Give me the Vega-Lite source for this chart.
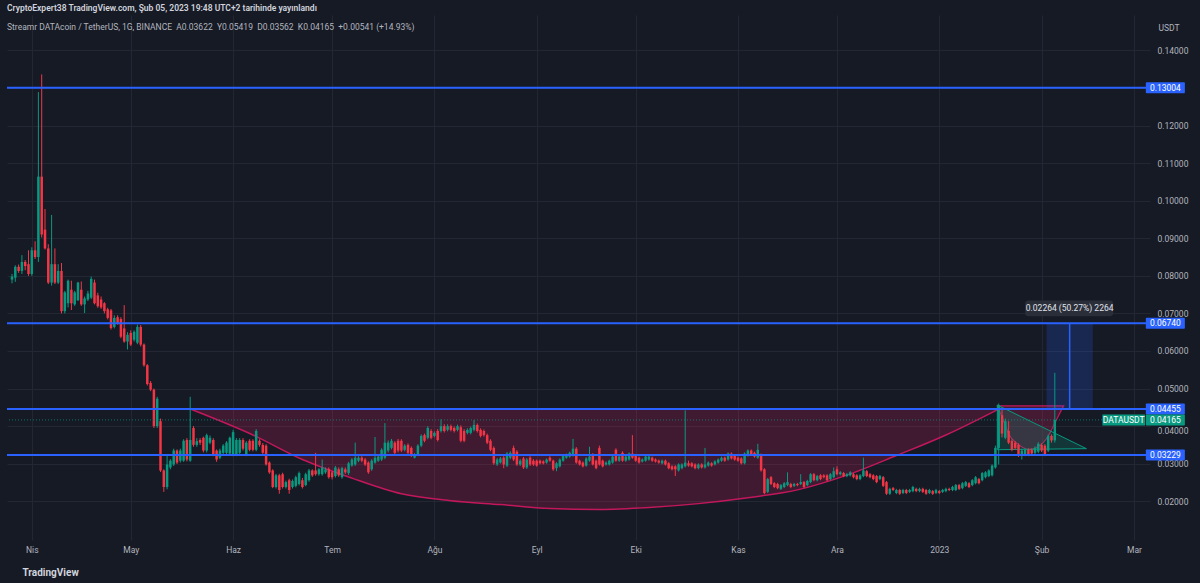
{
"$schema": "https://vega.github.io/schema/vega-lite/v6.json",
"width": 1143, "height": 525,
"autosize": {"type": "none"},
"padding": {"left": 7, "top": 15, "right": 50, "bottom": 43},
"background": "#161a25",
"config": {"view": {"stroke": null}, "font": "Roboto"},
"title": {"text": "CryptoExpert38 TradingView.com, Şub 05, 2023 19:48 UTC+2 tarihinde yayınlandı", "subtitle": "\u00a0\u00a0Streamr DATAcoin / TetherUS, 1G, BINANCE\u00a0\u00a0A0.03622\u00a0\u00a0Y0.05419\u00a0\u00a0D0.03562\u00a0\u00a0K0.04165\u00a0\u00a0+0.00541 (+14.93%)", "anchor": "start", "frame": "group", "offset": -16, "fontSize": 8.5, "fontWeight": 600, "color": "#d1d4dc", "subtitleFontSize": 8.5, "subtitleColor": "#b2b5be", "subtitlePadding": 10},
"datasets": {
"candles": [
{"t":"2022-03-26","o":0.0790,"h":0.0805,"l":0.0780,"c":0.0798},
{"t":"2022-03-27","o":0.0795,"h":0.0828,"l":0.0784,"c":0.0824},
{"t":"2022-03-28","o":0.0824,"h":0.0830,"l":0.0808,"c":0.0813},
{"t":"2022-03-29","o":0.0813,"h":0.0855,"l":0.0805,"c":0.0837},
{"t":"2022-03-30","o":0.0837,"h":0.0842,"l":0.0815,"c":0.0826},
{"t":"2022-03-31","o":0.0831,"h":0.0868,"l":0.0800,"c":0.0805},
{"t":"2022-04-01","o":0.0805,"h":0.0876,"l":0.0800,"c":0.0868},
{"t":"2022-04-02","o":0.0868,"h":0.0892,"l":0.0845,"c":0.0850},
{"t":"2022-04-03","o":0.0850,"h":0.1289,"l":0.0837,"c":0.1064},
{"t":"2022-04-04","o":0.1064,"h":0.1336,"l":0.0902,"c":0.0910},
{"t":"2022-04-05","o":0.0923,"h":0.0978,"l":0.0870,"c":0.0873},
{"t":"2022-04-06","o":0.0873,"h":0.0884,"l":0.0778,"c":0.0782},
{"t":"2022-04-07","o":0.0782,"h":0.0962,"l":0.0774,"c":0.0831},
{"t":"2022-04-08","o":0.0831,"h":0.0873,"l":0.0778,"c":0.0782},
{"t":"2022-04-09","o":0.0782,"h":0.0831,"l":0.0778,"c":0.0813},
{"t":"2022-04-10","o":0.0813,"h":0.0834,"l":0.0700,"c":0.0706},
{"t":"2022-04-11","o":0.0706,"h":0.0760,"l":0.0700,"c":0.0756},
{"t":"2022-04-12","o":0.0727,"h":0.0790,"l":0.0716,"c":0.0787},
{"t":"2022-04-13","o":0.0763,"h":0.0787,"l":0.0709,"c":0.0727},
{"t":"2022-04-14","o":0.0724,"h":0.0760,"l":0.0720,"c":0.0756},
{"t":"2022-04-15","o":0.0735,"h":0.0784,"l":0.0733,"c":0.0782},
{"t":"2022-04-16","o":0.0763,"h":0.0785,"l":0.0720,"c":0.0724},
{"t":"2022-04-17","o":0.0724,"h":0.0745,"l":0.0701,"c":0.0740},
{"t":"2022-04-18","o":0.0737,"h":0.0760,"l":0.0733,"c":0.0753},
{"t":"2022-04-19","o":0.0742,"h":0.0798,"l":0.0738,"c":0.0792},
{"t":"2022-04-20","o":0.0782,"h":0.0790,"l":0.0724,"c":0.0727},
{"t":"2022-04-21","o":0.0748,"h":0.0755,"l":0.0715,"c":0.0719},
{"t":"2022-04-22","o":0.0737,"h":0.0745,"l":0.0712,"c":0.0716},
{"t":"2022-04-23","o":0.0727,"h":0.0730,"l":0.0700,"c":0.0706},
{"t":"2022-04-24","o":0.0711,"h":0.0715,"l":0.0684,"c":0.0688},
{"t":"2022-04-25","o":0.0708,"h":0.0712,"l":0.0657,"c":0.0661},
{"t":"2022-04-26","o":0.0664,"h":0.0695,"l":0.0660,"c":0.0688},
{"t":"2022-04-27","o":0.0690,"h":0.0695,"l":0.0670,"c":0.0675},
{"t":"2022-04-28","o":0.0685,"h":0.0690,"l":0.0634,"c":0.0638},
{"t":"2022-04-29","o":0.0660,"h":0.0722,"l":0.0622,"c":0.0625},
{"t":"2022-04-30","o":0.0625,"h":0.0650,"l":0.0604,"c":0.0643},
{"t":"2022-05-01","o":0.0648,"h":0.0655,"l":0.0613,"c":0.0617},
{"t":"2022-05-02","o":0.0630,"h":0.0655,"l":0.0625,"c":0.0651},
{"t":"2022-05-03","o":0.0622,"h":0.0670,"l":0.0618,"c":0.0664},
{"t":"2022-05-04","o":0.0664,"h":0.0669,"l":0.0612,"c":0.0617},
{"t":"2022-05-05","o":0.0617,"h":0.0620,"l":0.0558,"c":0.0562},
{"t":"2022-05-06","o":0.0562,"h":0.0565,"l":0.0508,"c":0.0512},
{"t":"2022-05-07","o":0.0515,"h":0.0520,"l":0.0493,"c":0.0497},
{"t":"2022-05-08","o":0.0497,"h":0.0500,"l":0.0395,"c":0.0400},
{"t":"2022-05-09","o":0.0400,"h":0.0478,"l":0.0395,"c":0.0473},
{"t":"2022-05-10","o":0.0413,"h":0.0420,"l":0.0278,"c":0.0282},
{"t":"2022-05-11","o":0.0282,"h":0.0285,"l":0.0225,"c":0.0238},
{"t":"2022-05-12","o":0.0238,"h":0.0324,"l":0.0232,"c":0.0298},
{"t":"2022-05-13","o":0.0290,"h":0.0312,"l":0.0285,"c":0.0308},
{"t":"2022-05-14","o":0.0298,"h":0.0340,"l":0.0294,"c":0.0335},
{"t":"2022-05-15","o":0.0335,"h":0.0338,"l":0.0299,"c":0.0303},
{"t":"2022-05-16","o":0.0308,"h":0.0340,"l":0.0303,"c":0.0335},
{"t":"2022-05-17","o":0.0308,"h":0.0365,"l":0.0305,"c":0.0361},
{"t":"2022-05-18","o":0.0363,"h":0.0368,"l":0.0306,"c":0.0311},
{"t":"2022-05-19","o":0.0308,"h":0.0478,"l":0.0305,"c":0.0363},
{"t":"2022-05-20","o":0.0395,"h":0.0400,"l":0.0345,"c":0.0350},
{"t":"2022-05-21","o":0.0350,"h":0.0368,"l":0.0345,"c":0.0360},
{"t":"2022-05-22","o":0.0363,"h":0.0368,"l":0.0350,"c":0.0356},
{"t":"2022-05-23","o":0.0369,"h":0.0372,"l":0.0330,"c":0.0335},
{"t":"2022-05-24","o":0.0335,"h":0.0380,"l":0.0330,"c":0.0376},
{"t":"2022-05-25","o":0.0356,"h":0.0375,"l":0.0352,"c":0.0369},
{"t":"2022-05-26","o":0.0363,"h":0.0368,"l":0.0320,"c":0.0324},
{"t":"2022-05-27","o":0.0335,"h":0.0338,"l":0.0305,"c":0.0311},
{"t":"2022-05-28","o":0.0316,"h":0.0340,"l":0.0312,"c":0.0335},
{"t":"2022-05-29","o":0.0329,"h":0.0352,"l":0.0325,"c":0.0348},
{"t":"2022-05-30","o":0.0329,"h":0.0360,"l":0.0325,"c":0.0356},
{"t":"2022-05-31","o":0.0327,"h":0.0372,"l":0.0322,"c":0.0369},
{"t":"2022-06-01","o":0.0324,"h":0.0390,"l":0.0320,"c":0.0384},
{"t":"2022-06-02","o":0.0324,"h":0.0368,"l":0.0320,"c":0.0363},
{"t":"2022-06-03","o":0.0329,"h":0.0368,"l":0.0325,"c":0.0363},
{"t":"2022-06-04","o":0.0363,"h":0.0368,"l":0.0335,"c":0.0340},
{"t":"2022-06-05","o":0.0324,"h":0.0360,"l":0.0320,"c":0.0356},
{"t":"2022-06-06","o":0.0361,"h":0.0365,"l":0.0333,"c":0.0337},
{"t":"2022-06-07","o":0.0361,"h":0.0365,"l":0.0333,"c":0.0337},
{"t":"2022-06-08","o":0.0337,"h":0.0392,"l":0.0333,"c":0.0387},
{"t":"2022-06-09","o":0.0361,"h":0.0365,"l":0.0345,"c":0.0350},
{"t":"2022-06-10","o":0.0350,"h":0.0355,"l":0.0325,"c":0.0329},
{"t":"2022-06-11","o":0.0348,"h":0.0352,"l":0.0295,"c":0.0298},
{"t":"2022-06-12","o":0.0303,"h":0.0306,"l":0.0273,"c":0.0277},
{"t":"2022-06-13","o":0.0282,"h":0.0285,"l":0.0235,"c":0.0238},
{"t":"2022-06-14","o":0.0238,"h":0.0273,"l":0.0234,"c":0.0269},
{"t":"2022-06-15","o":0.0269,"h":0.0273,"l":0.0220,"c":0.0230},
{"t":"2022-06-16","o":0.0272,"h":0.0276,"l":0.0234,"c":0.0238},
{"t":"2022-06-17","o":0.0238,"h":0.0255,"l":0.0234,"c":0.0251},
{"t":"2022-06-18","o":0.0256,"h":0.0260,"l":0.0220,"c":0.0230},
{"t":"2022-06-19","o":0.0238,"h":0.0258,"l":0.0234,"c":0.0254},
{"t":"2022-06-20","o":0.0241,"h":0.0268,"l":0.0237,"c":0.0264},
{"t":"2022-06-21","o":0.0246,"h":0.0279,"l":0.0242,"c":0.0275},
{"t":"2022-06-22","o":0.0256,"h":0.0262,"l":0.0234,"c":0.0238},
{"t":"2022-06-23","o":0.0243,"h":0.0276,"l":0.0240,"c":0.0272},
{"t":"2022-06-24","o":0.0256,"h":0.0286,"l":0.0252,"c":0.0282},
{"t":"2022-06-25","o":0.0282,"h":0.0285,"l":0.0265,"c":0.0269},
{"t":"2022-06-26","o":0.0282,"h":0.0329,"l":0.0268,"c":0.0272},
{"t":"2022-06-27","o":0.0272,"h":0.0288,"l":0.0268,"c":0.0285},
{"t":"2022-06-28","o":0.0272,"h":0.0311,"l":0.0268,"c":0.0290},
{"t":"2022-06-29","o":0.0277,"h":0.0290,"l":0.0273,"c":0.0285},
{"t":"2022-06-30","o":0.0285,"h":0.0290,"l":0.0260,"c":0.0264},
{"t":"2022-07-01","o":0.0277,"h":0.0280,"l":0.0258,"c":0.0264},
{"t":"2022-07-02","o":0.0267,"h":0.0294,"l":0.0263,"c":0.0290},
{"t":"2022-07-03","o":0.0285,"h":0.0290,"l":0.0265,"c":0.0269},
{"t":"2022-07-04","o":0.0264,"h":0.0292,"l":0.0260,"c":0.0288},
{"t":"2022-07-05","o":0.0285,"h":0.0290,"l":0.0273,"c":0.0277},
{"t":"2022-07-06","o":0.0275,"h":0.0305,"l":0.0270,"c":0.0301},
{"t":"2022-07-07","o":0.0295,"h":0.0315,"l":0.0292,"c":0.0311},
{"t":"2022-07-08","o":0.0298,"h":0.0356,"l":0.0294,"c":0.0316},
{"t":"2022-07-09","o":0.0308,"h":0.0320,"l":0.0304,"c":0.0316},
{"t":"2022-07-10","o":0.0316,"h":0.0320,"l":0.0304,"c":0.0308},
{"t":"2022-07-11","o":0.0311,"h":0.0315,"l":0.0294,"c":0.0298},
{"t":"2022-07-12","o":0.0303,"h":0.0306,"l":0.0273,"c":0.0277},
{"t":"2022-07-13","o":0.0285,"h":0.0312,"l":0.0281,"c":0.0308},
{"t":"2022-07-14","o":0.0303,"h":0.0371,"l":0.0300,"c":0.0316},
{"t":"2022-07-15","o":0.0308,"h":0.0323,"l":0.0305,"c":0.0319},
{"t":"2022-07-16","o":0.0311,"h":0.0341,"l":0.0307,"c":0.0337},
{"t":"2022-07-17","o":0.0316,"h":0.0408,"l":0.0312,"c":0.0356},
{"t":"2022-07-18","o":0.0335,"h":0.0362,"l":0.0330,"c":0.0356},
{"t":"2022-07-19","o":0.0342,"h":0.0366,"l":0.0338,"c":0.0361},
{"t":"2022-07-20","o":0.0356,"h":0.0360,"l":0.0325,"c":0.0329},
{"t":"2022-07-21","o":0.0361,"h":0.0366,"l":0.0330,"c":0.0335},
{"t":"2022-07-22","o":0.0361,"h":0.0365,"l":0.0331,"c":0.0335},
{"t":"2022-07-23","o":0.0337,"h":0.0352,"l":0.0333,"c":0.0348},
{"t":"2022-07-24","o":0.0350,"h":0.0354,"l":0.0325,"c":0.0329},
{"t":"2022-07-25","o":0.0342,"h":0.0346,"l":0.0318,"c":0.0322},
{"t":"2022-07-26","o":0.0316,"h":0.0328,"l":0.0314,"c":0.0324},
{"t":"2022-07-27","o":0.0324,"h":0.0352,"l":0.0320,"c":0.0348},
{"t":"2022-07-28","o":0.0348,"h":0.0378,"l":0.0344,"c":0.0374},
{"t":"2022-07-29","o":0.0376,"h":0.0380,"l":0.0357,"c":0.0361},
{"t":"2022-07-30","o":0.0369,"h":0.0400,"l":0.0365,"c":0.0395},
{"t":"2022-07-31","o":0.0387,"h":0.0392,"l":0.0365,"c":0.0369},
{"t":"2022-08-01","o":0.0374,"h":0.0386,"l":0.0370,"c":0.0382},
{"t":"2022-08-02","o":0.0387,"h":0.0392,"l":0.0359,"c":0.0363},
{"t":"2022-08-03","o":0.0387,"h":0.0418,"l":0.0383,"c":0.0400},
{"t":"2022-08-04","o":0.0400,"h":0.0405,"l":0.0383,"c":0.0387},
{"t":"2022-08-05","o":0.0390,"h":0.0405,"l":0.0386,"c":0.0400},
{"t":"2022-08-06","o":0.0400,"h":0.0404,"l":0.0386,"c":0.0390},
{"t":"2022-08-07","o":0.0395,"h":0.0399,"l":0.0383,"c":0.0387},
{"t":"2022-08-08","o":0.0390,"h":0.0404,"l":0.0386,"c":0.0400},
{"t":"2022-08-09","o":0.0397,"h":0.0402,"l":0.0357,"c":0.0361},
{"t":"2022-08-10","o":0.0387,"h":0.0392,"l":0.0357,"c":0.0361},
{"t":"2022-08-11","o":0.0382,"h":0.0394,"l":0.0378,"c":0.0390},
{"t":"2022-08-12","o":0.0382,"h":0.0399,"l":0.0378,"c":0.0395},
{"t":"2022-08-13","o":0.0390,"h":0.0416,"l":0.0386,"c":0.0403},
{"t":"2022-08-14","o":0.0403,"h":0.0407,"l":0.0383,"c":0.0387},
{"t":"2022-08-15","o":0.0390,"h":0.0394,"l":0.0370,"c":0.0374},
{"t":"2022-08-16","o":0.0387,"h":0.0391,"l":0.0372,"c":0.0376},
{"t":"2022-08-17","o":0.0376,"h":0.0380,"l":0.0352,"c":0.0356},
{"t":"2022-08-18","o":0.0361,"h":0.0365,"l":0.0333,"c":0.0337},
{"t":"2022-08-19","o":0.0342,"h":0.0346,"l":0.0297,"c":0.0301},
{"t":"2022-08-20","o":0.0298,"h":0.0315,"l":0.0294,"c":0.0311},
{"t":"2022-08-21","o":0.0303,"h":0.0318,"l":0.0300,"c":0.0314},
{"t":"2022-08-22","o":0.0316,"h":0.0320,"l":0.0288,"c":0.0298},
{"t":"2022-08-23","o":0.0295,"h":0.0331,"l":0.0291,"c":0.0327},
{"t":"2022-08-24","o":0.0316,"h":0.0333,"l":0.0312,"c":0.0329},
{"t":"2022-08-25","o":0.0342,"h":0.0348,"l":0.0307,"c":0.0311},
{"t":"2022-08-26","o":0.0332,"h":0.0336,"l":0.0294,"c":0.0298},
{"t":"2022-08-27","o":0.0298,"h":0.0312,"l":0.0294,"c":0.0308},
{"t":"2022-08-28","o":0.0314,"h":0.0318,"l":0.0286,"c":0.0290},
{"t":"2022-08-29","o":0.0290,"h":0.0315,"l":0.0286,"c":0.0311},
{"t":"2022-08-30","o":0.0316,"h":0.0320,"l":0.0294,"c":0.0298},
{"t":"2022-08-31","o":0.0308,"h":0.0312,"l":0.0294,"c":0.0298},
{"t":"2022-09-01","o":0.0308,"h":0.0311,"l":0.0292,"c":0.0295},
{"t":"2022-09-02","o":0.0308,"h":0.0311,"l":0.0298,"c":0.0301},
{"t":"2022-09-03","o":0.0306,"h":0.0309,"l":0.0298,"c":0.0301},
{"t":"2022-09-04","o":0.0303,"h":0.0314,"l":0.0300,"c":0.0311},
{"t":"2022-09-05","o":0.0316,"h":0.0320,"l":0.0305,"c":0.0308},
{"t":"2022-09-06","o":0.0308,"h":0.0311,"l":0.0281,"c":0.0285},
{"t":"2022-09-07","o":0.0288,"h":0.0304,"l":0.0280,"c":0.0301},
{"t":"2022-09-08","o":0.0293,"h":0.0314,"l":0.0290,"c":0.0311},
{"t":"2022-09-09","o":0.0308,"h":0.0325,"l":0.0305,"c":0.0322},
{"t":"2022-09-10","o":0.0316,"h":0.0327,"l":0.0313,"c":0.0324},
{"t":"2022-09-11","o":0.0319,"h":0.0332,"l":0.0316,"c":0.0329},
{"t":"2022-09-12","o":0.0322,"h":0.0366,"l":0.0319,"c":0.0340},
{"t":"2022-09-13","o":0.0340,"h":0.0344,"l":0.0300,"c":0.0303},
{"t":"2022-09-14","o":0.0308,"h":0.0311,"l":0.0295,"c":0.0298},
{"t":"2022-09-15","o":0.0303,"h":0.0306,"l":0.0290,"c":0.0293},
{"t":"2022-09-16","o":0.0295,"h":0.0317,"l":0.0292,"c":0.0314},
{"t":"2022-09-17","o":0.0308,"h":0.0345,"l":0.0305,"c":0.0319},
{"t":"2022-09-18","o":0.0324,"h":0.0328,"l":0.0295,"c":0.0298},
{"t":"2022-09-19","o":0.0308,"h":0.0311,"l":0.0285,"c":0.0288},
{"t":"2022-09-20","o":0.0342,"h":0.0348,"l":0.0295,"c":0.0298},
{"t":"2022-09-21","o":0.0308,"h":0.0311,"l":0.0290,"c":0.0293},
{"t":"2022-09-22","o":0.0298,"h":0.0306,"l":0.0295,"c":0.0303},
{"t":"2022-09-23","o":0.0298,"h":0.0311,"l":0.0295,"c":0.0308},
{"t":"2022-09-24","o":0.0303,"h":0.0322,"l":0.0300,"c":0.0319},
{"t":"2022-09-25","o":0.0337,"h":0.0341,"l":0.0305,"c":0.0308},
{"t":"2022-09-26","o":0.0308,"h":0.0322,"l":0.0305,"c":0.0319},
{"t":"2022-09-27","o":0.0329,"h":0.0333,"l":0.0305,"c":0.0308},
{"t":"2022-09-28","o":0.0308,"h":0.0322,"l":0.0305,"c":0.0319},
{"t":"2022-09-29","o":0.0311,"h":0.0330,"l":0.0308,"c":0.0327},
{"t":"2022-09-30","o":0.0327,"h":0.0376,"l":0.0313,"c":0.0316},
{"t":"2022-10-01","o":0.0322,"h":0.0326,"l":0.0305,"c":0.0308},
{"t":"2022-10-02","o":0.0316,"h":0.0319,"l":0.0300,"c":0.0303},
{"t":"2022-10-03","o":0.0306,"h":0.0314,"l":0.0303,"c":0.0311},
{"t":"2022-10-04","o":0.0308,"h":0.0322,"l":0.0305,"c":0.0319},
{"t":"2022-10-05","o":0.0311,"h":0.0322,"l":0.0308,"c":0.0319},
{"t":"2022-10-06","o":0.0316,"h":0.0319,"l":0.0305,"c":0.0308},
{"t":"2022-10-07","o":0.0311,"h":0.0314,"l":0.0303,"c":0.0306},
{"t":"2022-10-08","o":0.0308,"h":0.0311,"l":0.0300,"c":0.0303},
{"t":"2022-10-09","o":0.0301,"h":0.0311,"l":0.0298,"c":0.0308},
{"t":"2022-10-10","o":0.0308,"h":0.0311,"l":0.0295,"c":0.0298},
{"t":"2022-10-11","o":0.0301,"h":0.0304,"l":0.0285,"c":0.0288},
{"t":"2022-10-12","o":0.0293,"h":0.0296,"l":0.0282,"c":0.0285},
{"t":"2022-10-13","o":0.0293,"h":0.0296,"l":0.0267,"c":0.0285},
{"t":"2022-10-14","o":0.0282,"h":0.0301,"l":0.0279,"c":0.0298},
{"t":"2022-10-15","o":0.0288,"h":0.0301,"l":0.0285,"c":0.0298},
{"t":"2022-10-16","o":0.0293,"h":0.0442,"l":0.0290,"c":0.0303},
{"t":"2022-10-17","o":0.0301,"h":0.0308,"l":0.0292,"c":0.0295},
{"t":"2022-10-18","o":0.0301,"h":0.0304,"l":0.0290,"c":0.0293},
{"t":"2022-10-19","o":0.0298,"h":0.0301,"l":0.0285,"c":0.0288},
{"t":"2022-10-20","o":0.0288,"h":0.0301,"l":0.0285,"c":0.0298},
{"t":"2022-10-21","o":0.0298,"h":0.0301,"l":0.0287,"c":0.0290},
{"t":"2022-10-22","o":0.0290,"h":0.0342,"l":0.0287,"c":0.0298},
{"t":"2022-10-23","o":0.0295,"h":0.0306,"l":0.0292,"c":0.0303},
{"t":"2022-10-24","o":0.0301,"h":0.0304,"l":0.0292,"c":0.0295},
{"t":"2022-10-25","o":0.0298,"h":0.0309,"l":0.0295,"c":0.0306},
{"t":"2022-10-26","o":0.0303,"h":0.0314,"l":0.0300,"c":0.0311},
{"t":"2022-10-27","o":0.0308,"h":0.0319,"l":0.0305,"c":0.0316},
{"t":"2022-10-28","o":0.0316,"h":0.0319,"l":0.0305,"c":0.0308},
{"t":"2022-10-29","o":0.0311,"h":0.0330,"l":0.0308,"c":0.0327},
{"t":"2022-10-30","o":0.0327,"h":0.0330,"l":0.0311,"c":0.0314},
{"t":"2022-10-31","o":0.0322,"h":0.0325,"l":0.0308,"c":0.0311},
{"t":"2022-11-01","o":0.0316,"h":0.0319,"l":0.0305,"c":0.0308},
{"t":"2022-11-02","o":0.0314,"h":0.0317,"l":0.0298,"c":0.0301},
{"t":"2022-11-03","o":0.0301,"h":0.0330,"l":0.0298,"c":0.0327},
{"t":"2022-11-04","o":0.0322,"h":0.0338,"l":0.0319,"c":0.0335},
{"t":"2022-11-05","o":0.0335,"h":0.0338,"l":0.0321,"c":0.0324},
{"t":"2022-11-06","o":0.0329,"h":0.0332,"l":0.0316,"c":0.0319},
{"t":"2022-11-07","o":0.0316,"h":0.0353,"l":0.0313,"c":0.0337},
{"t":"2022-11-08","o":0.0324,"h":0.0327,"l":0.0279,"c":0.0282},
{"t":"2022-11-09","o":0.0285,"h":0.0288,"l":0.0219,"c":0.0222},
{"t":"2022-11-10","o":0.0225,"h":0.0262,"l":0.0222,"c":0.0259},
{"t":"2022-11-11","o":0.0264,"h":0.0267,"l":0.0243,"c":0.0246},
{"t":"2022-11-12","o":0.0248,"h":0.0251,"l":0.0235,"c":0.0238},
{"t":"2022-11-13","o":0.0246,"h":0.0249,"l":0.0232,"c":0.0235},
{"t":"2022-11-14","o":0.0233,"h":0.0246,"l":0.0230,"c":0.0243},
{"t":"2022-11-15","o":0.0238,"h":0.0251,"l":0.0235,"c":0.0248},
{"t":"2022-11-16","o":0.0243,"h":0.0277,"l":0.0240,"c":0.0251},
{"t":"2022-11-17","o":0.0246,"h":0.0249,"l":0.0235,"c":0.0238},
{"t":"2022-11-18","o":0.0241,"h":0.0249,"l":0.0238,"c":0.0246},
{"t":"2022-11-19","o":0.0246,"h":0.0249,"l":0.0240,"c":0.0243},
{"t":"2022-11-20","o":0.0246,"h":0.0272,"l":0.0243,"c":0.0251},
{"t":"2022-11-21","o":0.0251,"h":0.0254,"l":0.0235,"c":0.0238},
{"t":"2022-11-22","o":0.0243,"h":0.0257,"l":0.0240,"c":0.0254},
{"t":"2022-11-23","o":0.0251,"h":0.0275,"l":0.0248,"c":0.0272},
{"t":"2022-11-24","o":0.0272,"h":0.0275,"l":0.0253,"c":0.0256},
{"t":"2022-11-25","o":0.0256,"h":0.0270,"l":0.0253,"c":0.0267},
{"t":"2022-11-26","o":0.0269,"h":0.0272,"l":0.0256,"c":0.0259},
{"t":"2022-11-27","o":0.0269,"h":0.0272,"l":0.0261,"c":0.0264},
{"t":"2022-11-28","o":0.0269,"h":0.0272,"l":0.0253,"c":0.0256},
{"t":"2022-11-29","o":0.0259,"h":0.0275,"l":0.0256,"c":0.0272},
{"t":"2022-11-30","o":0.0264,"h":0.0290,"l":0.0261,"c":0.0280},
{"t":"2022-12-01","o":0.0285,"h":0.0293,"l":0.0269,"c":0.0272},
{"t":"2022-12-02","o":0.0272,"h":0.0280,"l":0.0269,"c":0.0277},
{"t":"2022-12-03","o":0.0275,"h":0.0278,"l":0.0264,"c":0.0267},
{"t":"2022-12-04","o":0.0267,"h":0.0275,"l":0.0264,"c":0.0272},
{"t":"2022-12-05","o":0.0269,"h":0.0280,"l":0.0266,"c":0.0277},
{"t":"2022-12-06","o":0.0272,"h":0.0275,"l":0.0261,"c":0.0264},
{"t":"2022-12-07","o":0.0269,"h":0.0272,"l":0.0256,"c":0.0259},
{"t":"2022-12-08","o":0.0259,"h":0.0272,"l":0.0256,"c":0.0269},
{"t":"2022-12-09","o":0.0267,"h":0.0316,"l":0.0264,"c":0.0282},
{"t":"2022-12-10","o":0.0280,"h":0.0283,"l":0.0264,"c":0.0267},
{"t":"2022-12-11","o":0.0272,"h":0.0275,"l":0.0261,"c":0.0264},
{"t":"2022-12-12","o":0.0269,"h":0.0272,"l":0.0256,"c":0.0259},
{"t":"2022-12-13","o":0.0267,"h":0.0270,"l":0.0248,"c":0.0251},
{"t":"2022-12-14","o":0.0259,"h":0.0270,"l":0.0256,"c":0.0267},
{"t":"2022-12-15","o":0.0264,"h":0.0267,"l":0.0238,"c":0.0241},
{"t":"2022-12-16","o":0.0251,"h":0.0254,"l":0.0217,"c":0.0220},
{"t":"2022-12-17","o":0.0220,"h":0.0236,"l":0.0217,"c":0.0233},
{"t":"2022-12-18","o":0.0235,"h":0.0238,"l":0.0227,"c":0.0230},
{"t":"2022-12-19","o":0.0222,"h":0.0233,"l":0.0219,"c":0.0230},
{"t":"2022-12-20","o":0.0230,"h":0.0233,"l":0.0217,"c":0.0220},
{"t":"2022-12-21","o":0.0222,"h":0.0233,"l":0.0219,"c":0.0230},
{"t":"2022-12-22","o":0.0230,"h":0.0233,"l":0.0219,"c":0.0222},
{"t":"2022-12-23","o":0.0225,"h":0.0233,"l":0.0222,"c":0.0230},
{"t":"2022-12-24","o":0.0227,"h":0.0241,"l":0.0224,"c":0.0238},
{"t":"2022-12-25","o":0.0233,"h":0.0236,"l":0.0224,"c":0.0227},
{"t":"2022-12-26","o":0.0227,"h":0.0236,"l":0.0224,"c":0.0233},
{"t":"2022-12-27","o":0.0233,"h":0.0236,"l":0.0222,"c":0.0225},
{"t":"2022-12-28","o":0.0230,"h":0.0233,"l":0.0217,"c":0.0220},
{"t":"2022-12-29","o":0.0222,"h":0.0233,"l":0.0219,"c":0.0230},
{"t":"2022-12-30","o":0.0227,"h":0.0230,"l":0.0217,"c":0.0220},
{"t":"2022-12-31","o":0.0222,"h":0.0233,"l":0.0219,"c":0.0230},
{"t":"2023-01-01","o":0.0227,"h":0.0230,"l":0.0219,"c":0.0222},
{"t":"2023-01-02","o":0.0225,"h":0.0233,"l":0.0222,"c":0.0230},
{"t":"2023-01-03","o":0.0227,"h":0.0236,"l":0.0224,"c":0.0233},
{"t":"2023-01-04","o":0.0233,"h":0.0236,"l":0.0227,"c":0.0230},
{"t":"2023-01-05","o":0.0230,"h":0.0241,"l":0.0227,"c":0.0238},
{"t":"2023-01-06","o":0.0230,"h":0.0246,"l":0.0227,"c":0.0243},
{"t":"2023-01-07","o":0.0243,"h":0.0246,"l":0.0230,"c":0.0233},
{"t":"2023-01-08","o":0.0235,"h":0.0251,"l":0.0232,"c":0.0248},
{"t":"2023-01-09","o":0.0241,"h":0.0254,"l":0.0238,"c":0.0251},
{"t":"2023-01-10","o":0.0248,"h":0.0251,"l":0.0235,"c":0.0238},
{"t":"2023-01-11","o":0.0243,"h":0.0259,"l":0.0240,"c":0.0256},
{"t":"2023-01-12","o":0.0248,"h":0.0267,"l":0.0245,"c":0.0264},
{"t":"2023-01-13","o":0.0259,"h":0.0262,"l":0.0245,"c":0.0248},
{"t":"2023-01-14","o":0.0256,"h":0.0278,"l":0.0253,"c":0.0275},
{"t":"2023-01-15","o":0.0264,"h":0.0280,"l":0.0261,"c":0.0277},
{"t":"2023-01-16","o":0.0267,"h":0.0285,"l":0.0264,"c":0.0282},
{"t":"2023-01-17","o":0.0269,"h":0.0298,"l":0.0266,"c":0.0295},
{"t":"2023-01-18","o":0.0290,"h":0.0348,"l":0.0287,"c":0.0342},
{"t":"2023-01-19","o":0.0342,"h":0.0460,"l":0.0298,"c":0.0455},
{"t":"2023-01-20","o":0.0429,"h":0.0445,"l":0.0370,"c":0.0380},
{"t":"2023-01-21","o":0.0369,"h":0.0420,"l":0.0365,"c":0.0413},
{"t":"2023-01-22","o":0.0387,"h":0.0413,"l":0.0352,"c":0.0356},
{"t":"2023-01-23","o":0.0361,"h":0.0365,"l":0.0333,"c":0.0337},
{"t":"2023-01-24","o":0.0356,"h":0.0360,"l":0.0338,"c":0.0342},
{"t":"2023-01-25","o":0.0350,"h":0.0354,"l":0.0318,"c":0.0322},
{"t":"2023-01-26","o":0.0322,"h":0.0340,"l":0.0311,"c":0.0335},
{"t":"2023-01-27","o":0.0324,"h":0.0341,"l":0.0320,"c":0.0337},
{"t":"2023-01-28","o":0.0337,"h":0.0341,"l":0.0320,"c":0.0324},
{"t":"2023-01-29","o":0.0337,"h":0.0341,"l":0.0323,"c":0.0327},
{"t":"2023-01-30","o":0.0329,"h":0.0346,"l":0.0325,"c":0.0342},
{"t":"2023-01-31","o":0.0332,"h":0.0357,"l":0.0328,"c":0.0353},
{"t":"2023-02-01","o":0.0350,"h":0.0354,"l":0.0331,"c":0.0335},
{"t":"2023-02-02","o":0.0348,"h":0.0352,"l":0.0320,"c":0.0324},
{"t":"2023-02-03","o":0.0335,"h":0.0378,"l":0.0331,"c":0.0374},
{"t":"2023-02-04","o":0.0374,"h":0.0378,"l":0.0356,"c":0.0362},
{"t":"2023-02-05","o":0.03622,"h":0.05419,"l":0.03562,"c":0.04165}
],
"cup": [
{"t":"2022-05-19T01:00:00Z","p":0.04455},
{"t":"2022-06-07T00:00:00Z","p":0.03765},
{"t":"2022-06-22T00:00:00Z","p":0.03112},
{"t":"2022-07-07T00:00:00Z","p":0.02616},
{"t":"2022-07-22T00:00:00Z","p":0.02198},
{"t":"2022-08-06T00:00:00Z","p":0.02016},
{"t":"2022-08-21T00:00:00Z","p":0.01911},
{"t":"2022-09-05T00:00:00Z","p":0.01807},
{"t":"2022-09-20T00:00:00Z","p":0.01781},
{"t":"2022-10-05T00:00:00Z","p":0.01833},
{"t":"2022-10-20T00:00:00Z","p":0.01937},
{"t":"2022-11-04T00:00:00Z","p":0.02094},
{"t":"2022-11-19T00:00:00Z","p":0.02303},
{"t":"2022-12-04T00:00:00Z","p":0.02695},
{"t":"2022-12-19T00:00:00Z","p":0.03217},
{"t":"2023-01-03T00:00:00Z","p":0.03765},
{"t":"2023-01-19T00:00:00Z","p":0.04455}
],
"cup2": [
{"t":"2023-01-18T14:00:00Z","p":0.0454},
{"t":"2023-01-20T10:00:00Z","p":0.04157},
{"t":"2023-01-22T05:00:00Z","p":0.03765},
{"t":"2023-01-24T07:00:00Z","p":0.03556},
{"t":"2023-01-26T10:00:00Z","p":0.03426},
{"t":"2023-01-28T05:00:00Z","p":0.03373},
{"t":"2023-01-30T07:00:00Z","p":0.03426},
{"t":"2023-02-01T10:00:00Z","p":0.03556},
{"t":"2023-02-03T05:00:00Z","p":0.03765},
{"t":"2023-02-05T07:00:00Z","p":0.04131},
{"t":"2023-02-06T19:00:00Z","p":0.04392},
{"t":"2023-02-07T17:00:00Z","p":0.0454}
],
"tri": [
{"t":"2023-01-18T14:00:00Z","a":0.04561,"b":0.03373},
{"t":"2023-02-14T14:00:00Z","a":0.0340,"b":0.0340}
],
"measure": [
{"t1":"2023-02-02T12:00:00Z","t2":"2023-02-16T12:00:00Z","tm":"2023-02-09T12:00:00Z","p1":0.04455,"p2":0.0674,"lab":"0.02264 (50.27%) 2264"}
],
"levels": [
{"p":0.13004,"lab":"0.13004","k":"level"},
{"p":0.0674,"lab":"0.06740","k":"level"},
{"p":0.04455,"lab":"0.04455","k":"level"},
{"p":0.03229,"lab":"0.03229","k":"level"},
{"p":0.04165,"lab":"0.04165","k":"last"}
]
},
"resolve": {"axis": {"x": "independent", "y": "independent"}},
"layer": [
{"data":{"name":"cup"},
 "mark":{"type":"area","interpolate":"monotone","fill":"#e91e63","fillOpacity":0.2,"stroke":"#c2185b","strokeWidth":1.5,"clip":true},
 "encoding":{
  "x":{"field":"t","type":"temporal","scale":{"type":"utc","domain":[1648252800000,1677916800000]},
   "axis":{"orient":"bottom","values":[1648771200000,1651363200000,1654041600000,1656633600000,1659312000000,1661990400000,1664582400000,1667260800000,1669852800000,1672531200000,1675209600000,1677628800000],
    "labelExpr":"utcmonth(datum.value) == 0 ? utcFormat(datum.value, '%Y') : ['Oca','Şub','Mar','Nis','May','Haz','Tem','Ağu','Eyl','Eki','Kas','Ara'][utcmonth(datum.value)]",
    "labelFontSize":8.5,"labelColor":"#b2b5be","labelPadding":5,"labelFlush":false,"labelOverlap":false,"ticks":false,"domain":false,"grid":true,"gridColor":"#232733","gridWidth":1,
    "title":"TradingView","titleX":15,"titleY":32,"titleAngle":0,"titleAlign":"left","titleBaseline":"middle","titleFontSize":10,"titleFontWeight":"bold","titleColor":"#d1d4dc"}},
  "y":{"field":"p","type":"quantitative","scale":{"domain":[0.01102,0.14809],"zero":false,"nice":false},
   "axis":{"orient":"right","values":[0.02,0.03,0.04,0.05,0.06,0.07,0.08,0.09,0.10,0.11,0.12,0.13,0.14],"labelExpr":"abs(datum.value - 0.13) < 0.001 ? '' : format(datum.value, '.5f')","labelFontSize":8.5,"labelColor":"#b2b5be","labelPadding":7,"labelAlign":"left",
    "labelBaseline":{"condition":{"test":"abs(datum.value - 0.04) < 0.001","value":"top"},"value":"middle"},
    "ticks":false,"domain":false,"grid":true,"gridColor":"#232733","gridWidth":1,
    "title":"USDT","titleX":8,"titleY":12,"titleAngle":0,"titleAlign":"left","titleBaseline":"middle","titleFontSize":8.5,"titleFontWeight":"normal","titleColor":"#b2b5be"}},
  "y2":{"datum":0.04455}
 }},
{"data":{"name":"cup2"},
 "mark":{"type":"area","interpolate":"monotone","fill":"#e91e63","fillOpacity":0.22,"stroke":"#c2185b","strokeWidth":1.2,"clip":true},
 "encoding":{
  "x":{"field":"t","type":"temporal","scale":{"type":"utc","domain":[1648252800000,1677916800000]},"axis":null},
  "y":{"field":"p","type":"quantitative","scale":{"domain":[0.01102,0.14809],"zero":false,"nice":false},"axis":null},
  "y2":{"datum":0.0454}
 }},
{"data":{"name":"tri"},
 "mark":{"type":"area","fill":"#089981","fillOpacity":0.22,"stroke":"#089981","strokeWidth":1,"clip":true},
 "encoding":{
  "x":{"field":"t","type":"temporal","scale":{"type":"utc","domain":[1648252800000,1677916800000]},"axis":null},
  "y":{"field":"a","type":"quantitative","scale":{"domain":[0.01102,0.14809],"zero":false,"nice":false},"axis":null},
  "y2":{"field":"b"}
 }},
{"data":{"name":"measure"},
 "mark":{"type":"rect","fill":"#2962ff","fillOpacity":0.2,"clip":true},
 "encoding":{
  "x":{"field":"t1","type":"temporal","scale":{"type":"utc","domain":[1648252800000,1677916800000]},"axis":null},
  "x2":{"field":"t2"},
  "y":{"field":"p1","type":"quantitative","scale":{"domain":[0.01102,0.14809],"zero":false,"nice":false},"axis":null},
  "y2":{"field":"p2"}
 }},
{"data":{"name":"measure"},
 "mark":{"type":"rule","color":"#2962ff","strokeWidth":1.5,"clip":true},
 "encoding":{
  "x":{"field":"tm","type":"temporal","scale":{"type":"utc","domain":[1648252800000,1677916800000]},"axis":null},
  "y":{"field":"p1","type":"quantitative","scale":{"domain":[0.01102,0.14809],"zero":false,"nice":false},"axis":null},
  "y2":{"field":"p2"}
 }},
{"data":{"name":"candles"},
 "mark":{"type":"rule","strokeWidth":1,"clip":true},
 "encoding":{
  "x":{"field":"t","type":"temporal","scale":{"type":"utc","domain":[1648252800000,1677916800000]},"axis":null},
  "y":{"field":"l","type":"quantitative","scale":{"domain":[0.01102,0.14809],"zero":false,"nice":false},"axis":null},
  "y2":{"field":"h"},
  "color":{"condition":{"test":"datum.c >= datum.o","value":"#089981"},"value":"#f23645"}
 }},
{"data":{"name":"candles"},
 "mark":{"type":"bar","size":2.5,"clip":true},
 "encoding":{
  "x":{"field":"t","type":"temporal","scale":{"type":"utc","domain":[1648252800000,1677916800000]},"axis":null},
  "y":{"field":"o","type":"quantitative","scale":{"domain":[0.01102,0.14809],"zero":false,"nice":false},"axis":null},
  "y2":{"field":"c"},
  "color":{"condition":{"test":"datum.c >= datum.o","value":"#089981"},"value":"#f23645"}
 }},
{"data":{"name":"levels"},
 "transform":[{"filter":"datum.k == 'level'"}],
 "mark":{"type":"rule","color":"#2962ff","strokeWidth":2},
 "encoding":{
  "y":{"field":"p","type":"quantitative","scale":{"domain":[0.01102,0.14809],"zero":false,"nice":false},"axis":null}
 }},
{"data":{"values":[{}]},
 "mark":{"type":"rule","color":"#089981","strokeWidth":1,"strokeDash":[1,2],"opacity":0.7},
 "encoding":{
  "y":{"datum":0.04165,"type":"quantitative","scale":{"domain":[0.01102,0.14809],"zero":false,"nice":false},"axis":null}
 }},
{"data":{"values":[{}]},
 "mark":{"type":"rect","fill":"#2a2e39","cornerRadius":3,"clip":false},
 "encoding":{
  "x":{"datum":{"year":2023,"month":1,"date":27,"utc":true},"type":"temporal","scale":{"type":"utc","domain":[1648252800000,1677916800000]},"axis":null},
  "x2":{"datum":{"year":2023,"month":2,"date":22,"hours":17,"utc":true}},
  "y":{"datum":0.06924,"type":"quantitative","scale":{"domain":[0.01102,0.14809],"zero":false,"nice":false},"axis":null},
  "y2":{"datum":0.07342}
 }},
{"data":{"name":"measure"},
 "mark":{"type":"text","color":"#e0e3eb","fontSize":8.5,"align":"center","baseline":"middle","clip":false},
 "encoding":{
  "x":{"field":"tm","type":"temporal","scale":{"type":"utc","domain":[1648252800000,1677916800000]},"axis":null},
  "y":{"datum":0.07133,"type":"quantitative","scale":{"domain":[0.01102,0.14809],"zero":false,"nice":false},"axis":null},
  "text":{"field":"lab"}
 }},
{"data":{"values":[{}]},
 "mark":{"type":"bar","size":11,"color":"#089981","clip":false},
 "encoding":{
  "x":{"datum":{"year":2023,"month":2,"date":19,"hours":10,"utc":true},"type":"temporal","scale":{"type":"utc","domain":[1648252800000,1677916800000]},"axis":null},
  "x2":{"datum":{"year":2023,"month":3,"date":4,"hours":8,"utc":true}},
  "y":{"datum":0.04165,"type":"quantitative","scale":{"domain":[0.01102,0.14809],"zero":false,"nice":false},"axis":null}
 }},
{"data":{"values":[{}]},
 "mark":{"type":"text","color":"#ffffff","fontSize":8.5,"align":"center","baseline":"middle","clip":false},
 "encoding":{
  "x":{"datum":{"year":2023,"month":2,"date":25,"hours":21,"utc":true},"type":"temporal","scale":{"type":"utc","domain":[1648252800000,1677916800000]},"axis":null},
  "y":{"datum":0.04165,"type":"quantitative","scale":{"domain":[0.01102,0.14809],"zero":false,"nice":false},"axis":null},
  "text":{"value":"DATAUSDT"}
 }},
{"data":{"name":"levels"},
 "mark":{"type":"bar","size":11,"cornerRadius":1,"clip":false},
 "encoding":{
  "x":{"datum":{"year":2023,"month":3,"date":4,"hours":14,"utc":true},"type":"temporal","scale":{"type":"utc","domain":[1648252800000,1677916800000]},"axis":null},
  "x2":{"datum":{"year":2023,"month":3,"date":16,"hours":10,"utc":true}},
  "y":{"field":"p","type":"quantitative","scale":{"domain":[0.01102,0.14809],"zero":false,"nice":false},"axis":null},
  "color":{"condition":{"test":"datum.k == 'last'","value":"#089981"},"value":"#2962ff"}
 }},
{"data":{"name":"levels"},
 "mark":{"type":"text","color":"#ffffff","fontSize":8.5,"align":"center","baseline":"middle","clip":false},
 "encoding":{
  "x":{"datum":{"year":2023,"month":3,"date":10,"hours":12,"utc":true},"type":"temporal","scale":{"type":"utc","domain":[1648252800000,1677916800000]},"axis":null},
  "y":{"field":"p","type":"quantitative","scale":{"domain":[0.01102,0.14809],"zero":false,"nice":false},"axis":null},
  "text":{"field":"lab"}
 }}
]
}
